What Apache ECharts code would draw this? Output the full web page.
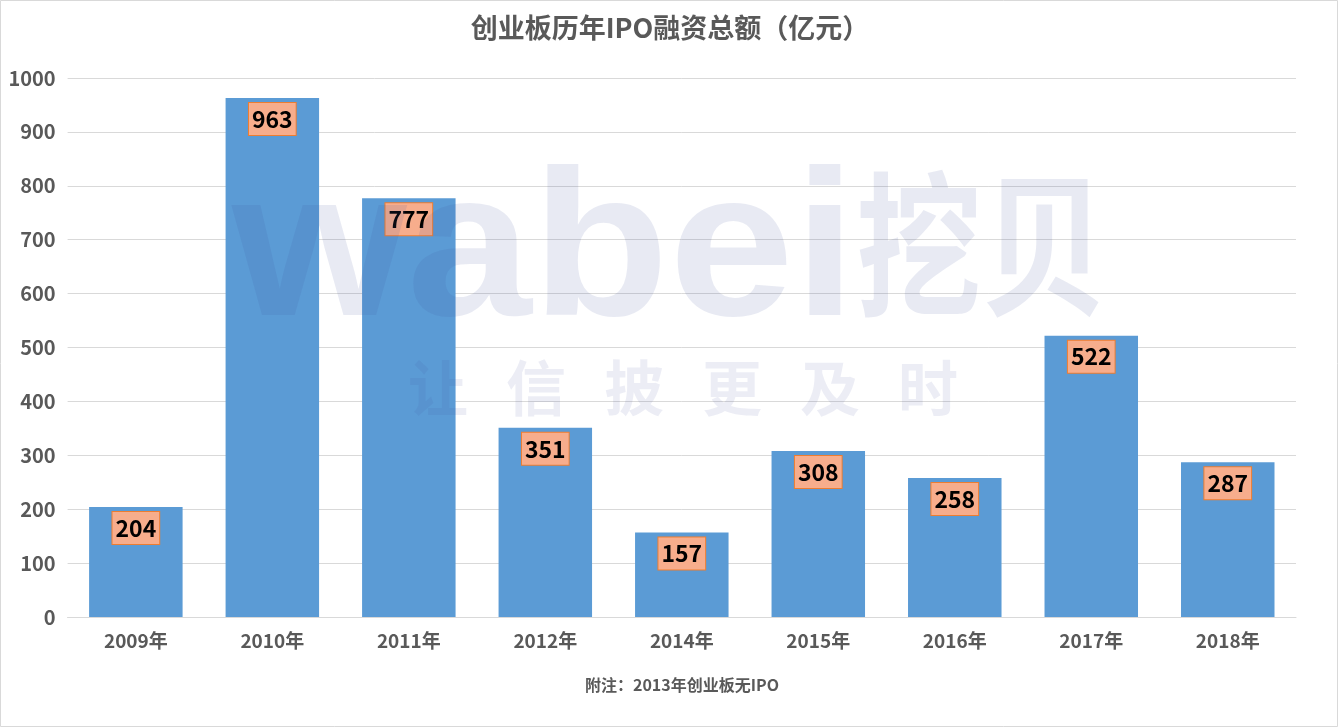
<!DOCTYPE html>
<html><head><meta charset="utf-8">
<style>html,body{margin:0;padding:0;background:#fff}#c{width:1338px;height:727px}</style>
<script src="https://cdn.jsdelivr.net/npm/echarts@6/dist/echarts.min.js"></script>
</head><body><div id="c"></div>
<script>
const categories=['2009年','2010年','2011年','2012年','2014年','2015年','2016年','2017年','2018年'];
const values=[204,963,777,351,157,308,258,522,287];
const titleText='创业板历年IPO融资总额（亿元）';
const noteText='附注：2013年创业板无IPO';
const sloganChars=['让','信','披','更','及','时'];
const FONT='"Noto Sans CJK SC","Noto Sans",sans-serif';
const WM='rgba(64,80,155,0.12)';
const chart=echarts.init(document.getElementById('c'),null,{renderer:'canvas'});
const graphic=[
 {type:'rect',shape:{x:0.5,y:0.5,width:1337,height:726},style:{fill:'none',stroke:'#d9d9d9',lineWidth:1},z:0,silent:true},
 {type:'text',x:682,y:685,style:{text:noteText,font:'bold 16px '+FONT,fill:'#595959',textAlign:'center',verticalAlign:'middle'},z:5},
 {type:'text',x:232,y:154,scaleX:1.08,style:{text:'wabei',font:'bold 208px "Liberation Sans"',fill:WM,textAlign:'left',verticalAlign:'top'},z:100,silent:true},
 {type:'text',x:856,y:322,scaleX:0.81,style:{text:'挖贝',font:'bold 155px '+FONT,fill:WM,textAlign:'left',verticalAlign:'bottom'},z:100,silent:true}
];
sloganChars.forEach((ch,i)=>graphic.push({type:'text',x:438+i*98,y:388,style:{text:ch,font:'bold 60px '+FONT,fill:'rgba(64,80,155,0.10)',textAlign:'center',verticalAlign:'middle'},z:100,silent:true}));
chart.setOption({
 animation:false,
 backgroundColor:'#fff',
 title:{text:titleText,left:665,top:9,textAlign:'center',textStyle:{fontFamily:FONT,fontSize:27,fontWeight:'bold',color:'#595959'}},
 grid:{left:67.6,right:42,top:78,bottom:110,containLabel:false},
 xAxis:{type:'category',data:categories,axisLine:{lineStyle:{color:'#d9d9d9',width:1}},axisTick:{show:false},
  axisLabel:{fontFamily:FONT,fontSize:19,fontWeight:'bold',color:'#595959',margin:14}},
 yAxis:{type:'value',min:0,max:1000,interval:100,axisLine:{show:false},axisTick:{show:false},
  splitLine:{lineStyle:{color:'#d9d9d9',width:1}},
  axisLabel:{formatter:v=>String(v),fontFamily:FONT,fontSize:20,fontWeight:'bold',color:'#595959',margin:12}},
 series:[{type:'bar',data:values,barWidth:'68.5%',itemStyle:{color:'#5B9BD5'},
  label:{show:true,position:'insideTop',distance:5,fontFamily:FONT,fontSize:23,fontWeight:'bold',color:'#000',lineHeight:26,
   backgroundColor:'#F7AD8C',borderColor:'#ED7D31',borderWidth:1,padding:[3,3,3,3]}}],
 graphic:graphic
});
</script></body></html>
